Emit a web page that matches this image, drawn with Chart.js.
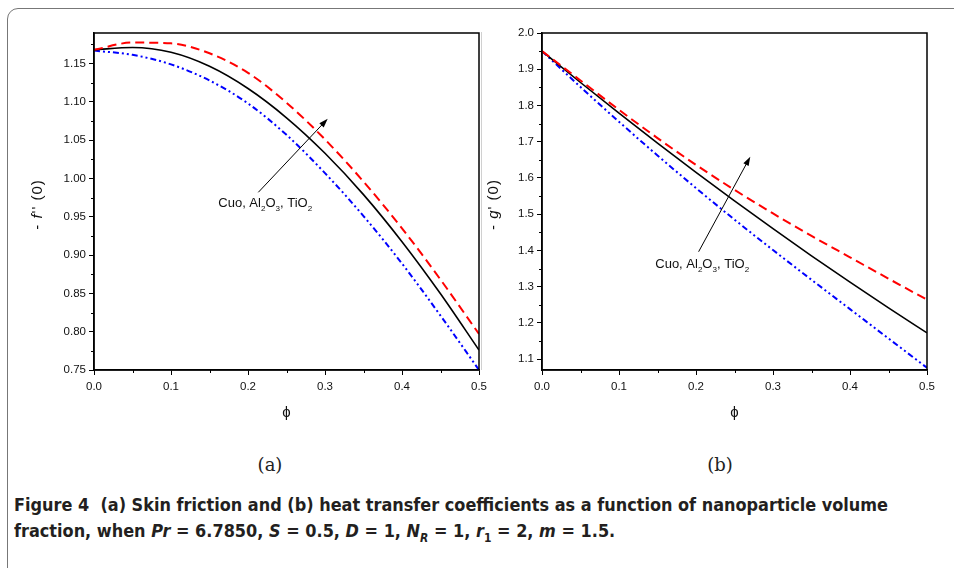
<!DOCTYPE html>
<html>
<head>
<meta charset="utf-8">
<script src="https://cdn.jsdelivr.net/npm/chart.js@4"></script>
<style>
body { margin: 0; background: #fff; width: 954px; height: 568px; overflow: hidden; position: relative; font-family: "Liberation Sans", Arial, sans-serif; }
#frame { position: absolute; left: 7px; top: 8px; width: 980px; height: 600px; border: 1.5px solid #777; border-radius: 11px; }
#sep { position: absolute; left: 481px; top: 32px; width: 1px; height: 338px; background: #d0d0d0; }
.panel { position: absolute; top: 0; }
.sub { position: absolute; top: 454px; width: 60px; text-align: center; font-family: "DejaVu Serif", "Liberation Serif", serif; font-size: 18px; color: #222; }
#caption { position: absolute; left: 14px; top: 492px; font-weight: bold; font-size: 18px; line-height: 26px; color: #231f20; white-space: nowrap; font-family: "Liberation Sans Narrow", "DejaVu Sans Condensed", "Liberation Sans", sans-serif; transform-origin: 0 0; }
#caption sub { font-size: 12px; line-height: 0; }
</style>
</head>
<body>
<div id="frame"></div>
<div id="sep"></div>
<canvas id="chartA" class="panel" width="500" height="440" style="left:0"></canvas>
<canvas id="chartB" class="panel" width="474" height="440" style="left:480px"></canvas>
<div class="sub" style="left:240px">(a)</div>
<div class="sub" style="left:690px">(b)</div>
<div id="caption">
	<div id="cap1">Figure 4&nbsp;&nbsp;(a) Skin friction and (b) heat transfer coefficients as a function of nanoparticle volume</div>
	<div>fraction, when <i>Pr</i> = 6.7850, <i>S</i> = 0.5, <i>D</i> = 1, <i>N<sub>R</sub></i> = 1, <i>r</i><sub>1</sub> = 2, <i>m</i> = 1.5.</div>
</div>
<script>
// nanoparticle volume fraction
const phi = [0, 0.05, 0.1, 0.15, 0.2, 0.25, 0.3, 0.35, 0.4, 0.45, 0.5];

// (a) skin friction -f''(0)
const skinRed = [1.168, 1.1775, 1.1765, 1.1635, 1.138, 1.099, 1.051, 0.996, 0.935, 0.868, 0.797];
const skinBlack = [1.168, 1.171, 1.1648, 1.1465, 1.1175, 1.0793, 1.033, 0.979, 0.9175, 0.8495, 0.776];
const skinBlue = [1.167, 1.1615, 1.149, 1.128, 1.098, 1.057, 1.007, 0.951, 0.889, 0.821, 0.750];

// (b) heat transfer -g'(0)
const heatRed = [1.95, 1.869, 1.788, 1.71, 1.636, 1.567, 1.502, 1.44, 1.381, 1.322, 1.264];
const heatBlack = [1.95, 1.8634, 1.7788, 1.6962, 1.6155, 1.5368, 1.46, 1.3852, 1.3123, 1.2414, 1.1725];
const heatBlue = [1.95, 1.851, 1.755, 1.662, 1.572, 1.485, 1.401, 1.319, 1.238, 1.157, 1.076];

const xTicks = [0, 0.1, 0.2, 0.3, 0.4, 0.5];
const xMinor = [0.05, 0.15, 0.25, 0.35, 0.45];
const yTicksA = [0.75, 0.80, 0.85, 0.90, 0.95, 1.00, 1.05, 1.10, 1.15];
const yMinorA = [0.775, 0.825, 0.875, 0.925, 0.975, 1.025, 1.075, 1.125, 1.175];
const yTicksB = [1.1, 1.2, 1.3, 1.4, 1.5, 1.6, 1.7, 1.8, 1.9, 2.0];
const yMinorB = [1.15, 1.25, 1.35, 1.45, 1.55, 1.65, 1.75, 1.85, 1.95];

// arrow tail/head and label anchor, in data units
const arrowA = [[0.2134, 0.982], [0.3035, 1.078]];
const labelA = [0.1614, 0.963];
const arrowB = [[0.2034, 1.3964], [0.2705, 1.6586]];
const labelB = [0.1471, 1.3518];
const labelParts = [["Cuo, Al", 0], ["2", 1], ["O", 0], ["3", 1], [", TiO", 0], ["2", 1]];

const FONT = '"Liberation Sans", Arial, sans-serif';

function pts(ys) {
	return phi.map((x, i) => ({x, y: ys[i]}));
}

function series(data, color, dash, width) {
	return {
		data: pts(data),
		borderColor: color,
		borderWidth: width,
		borderDash: dash,
		pointRadius: 0,
		fill: false,
		cubicInterpolationMode: "monotone"
	};
}

function drawParts(ctx, parts, x, y, size) {
	let cx = x;
	parts.forEach(([t, sub]) => {
		ctx.font = (sub ? size * 0.62 : size) + "px " + FONT;
		ctx.fillText(t, cx, sub ? y + size * 0.3 : y);
		cx += ctx.measureText(t).width;
	});
}

function decor(o) {
	return {
		id: "decor",
		afterDraw(chart) {
			const {ctx, chartArea: a} = chart;
			const x = chart.scales.x, y = chart.scales.y;
			ctx.save();
			ctx.strokeStyle = "#000";
			ctx.fillStyle = "#000";
			ctx.lineWidth = 1.5;
			ctx.strokeRect(a.left, a.top, a.right - a.left, a.bottom - a.top);

			// minor ticks
			ctx.lineWidth = 1;
			ctx.beginPath();
			xMinor.forEach(v => {
				const px = Math.round(x.getPixelForValue(v)) + 0.5;
				ctx.moveTo(px, a.bottom);
				ctx.lineTo(px, a.bottom + 3);
			});
			o.yMinor.forEach(v => {
				const py = Math.round(y.getPixelForValue(v)) + 0.5;
				ctx.moveTo(a.left, py);
				ctx.lineTo(a.left - 3, py);
			});
			ctx.stroke();

			// arrow
			const x0 = x.getPixelForValue(o.arrow[0][0]), y0 = y.getPixelForValue(o.arrow[0][1]);
			const x1 = x.getPixelForValue(o.arrow[1][0]), y1 = y.getPixelForValue(o.arrow[1][1]);
			const ang = Math.atan2(y1 - y0, x1 - x0);
			ctx.beginPath();
			ctx.moveTo(x0, y0);
			ctx.lineTo(x1 - 6 * Math.cos(ang), y1 - 6 * Math.sin(ang));
			ctx.stroke();
			ctx.beginPath();
			ctx.moveTo(x1, y1);
			ctx.lineTo(x1 - 9 * Math.cos(ang) + 3 * Math.sin(ang), y1 - 9 * Math.sin(ang) - 3 * Math.cos(ang));
			ctx.lineTo(x1 - 9 * Math.cos(ang) - 3 * Math.sin(ang), y1 - 9 * Math.sin(ang) + 3 * Math.cos(ang));
			ctx.closePath();
			ctx.fill();

			// label
			ctx.textBaseline = "alphabetic";
			ctx.fillStyle = "#111";
			drawParts(ctx, labelParts, x.getPixelForValue(o.label[0]), y.getPixelForValue(o.label[1]), 13);

			// x title
			ctx.textAlign = "center";
			ctx.textBaseline = "middle";
			ctx.font = "15px " + FONT;
			ctx.fillText("ϕ", (a.left + a.right) / 2, a.bottom + 43);

			// y title, rotated, with italic function name
			ctx.translate(o.yTitleX, (a.top + a.bottom) / 2 + 3);
			ctx.rotate(-Math.PI / 2);
			ctx.textAlign = "left";
			ctx.letterSpacing = "1px";
			const parts = [["- ", ""], [o.fn, "italic "], [o.primes + " (0)", ""]];
			let w = 0;
			parts.forEach(([t, st]) => { ctx.font = st + "15px " + FONT; w += ctx.measureText(t).width; });
			let cx = -w / 2;
			parts.forEach(([t, st]) => {
				ctx.font = st + "15px " + FONT;
				ctx.fillText(t, cx, 0);
				cx += ctx.measureText(t).width;
			});
			ctx.restore();
		}
	};
}

function buildChart(id, datasets, o) {
	return new Chart(document.getElementById(id), {
		type: "line",
		data: {datasets},
		options: {
			responsive: false,
			animation: false,
			events: [],
			layout: {padding: {top: 33, right: o.padRight, left: 0, bottom: 0}},
			plugins: {legend: {display: false}, tooltip: {enabled: false}},
			scales: {
				x: {
					type: "linear",
					min: 0,
					max: 0.5,
					afterBuildTicks: s => { s.ticks = xTicks.map(value => ({value})); },
					afterFit: s => { s.height = 70; },
					grid: {drawOnChartArea: false, drawTicks: true, tickLength: 5, color: "#000"},
					border: {display: true, color: "#000", width: 1.5},
					ticks: {
						color: "#111",
						padding: 5,
						maxRotation: 0,
						font: {family: FONT, size: 11.5},
						callback: v => v.toFixed(1)
					}
				},
				y: {
					type: "linear",
					min: o.yMin,
					max: o.yMax,
					afterBuildTicks: s => { s.ticks = o.yTicks.map(value => ({value})); },
					afterFit: s => { s.width = o.axisWidth; },
					grid: {drawOnChartArea: false, drawTicks: true, tickLength: 5, color: "#000"},
					border: {display: true, color: "#000", width: 1.5},
					ticks: {
						color: "#111",
						padding: 3,
						font: {family: FONT, size: 11.5},
						callback: v => v.toFixed(o.decimals)
					}
				}
			}
		},
		plugins: [decor(o)]
	});
}

buildChart("chartA", [
	series(skinRed, "#ff0000", [9, 5], 2),
	series(skinBlack, "#000000", [], 1.6),
	series(skinBlue, "#0000ff", [6, 3, 2, 3, 2, 3], 2)
], {
	yMin: 0.75, yMax: 1.19, yTicks: yTicksA, yMinor: yMinorA, decimals: 2,
	axisWidth: 94, padRight: 21,
	arrow: arrowA, label: labelA,
	fn: "f", primes: "''", yTitleX: 38
});

buildChart("chartB", [
	series(heatRed, "#ff0000", [9, 5], 2),
	series(heatBlack, "#000000", [], 1.6),
	series(heatBlue, "#0000ff", [6, 3, 2, 3, 2, 3], 2)
], {
	yMin: 1.07, yMax: 2.0, yTicks: yTicksB, yMinor: yMinorB, decimals: 1,
	axisWidth: 62, padRight: 27,
	arrow: arrowB, label: labelB,
	fn: "g", primes: "'", yTitleX: 14
});

// squeeze the caption to the width of the printed one
const cap = document.getElementById("caption");
const w1 = document.getElementById("cap1").getBoundingClientRect().width;
cap.style.transform = "scaleX(" + (874 / w1) + ")";
</script>
</body>
</html>
